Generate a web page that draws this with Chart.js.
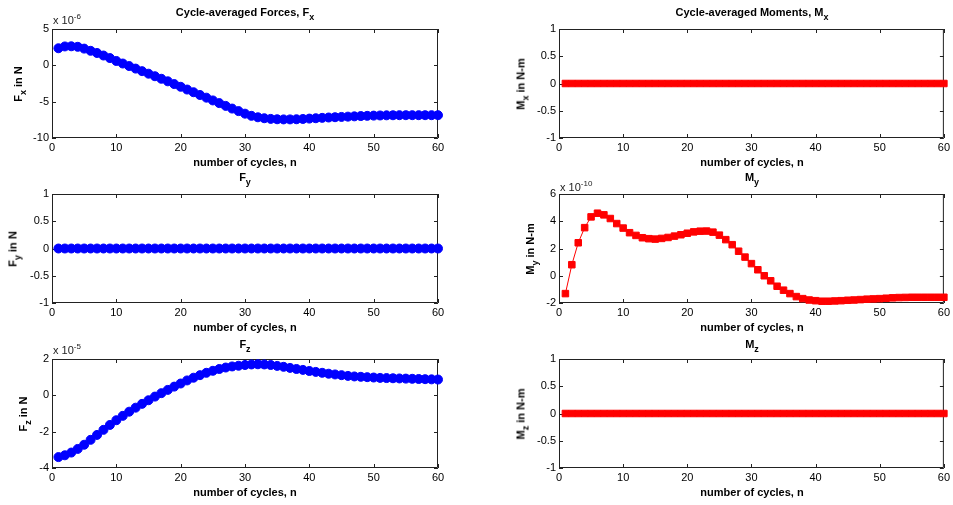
<!DOCTYPE html>
<html><head><meta charset="utf-8">
<script src="https://cdn.jsdelivr.net/npm/chart.js@4"></script>
<style>
html,body{margin:0;padding:0;background:#fff;}
#fig{position:relative;width:953px;height:505px;overflow:hidden;font-family:"Liberation Sans",Arial,Helvetica,sans-serif;color:#000;background:#fff;}
canvas{position:absolute;}
.t{position:absolute;white-space:nowrap;font-size:11px;line-height:11px;height:11px;}
.b{font-weight:bold;}
.t sub{font-size:9px;vertical-align:baseline;position:relative;top:4px;line-height:0;}
.t sup{font-size:8px;vertical-align:baseline;position:relative;top:-5px;line-height:0;}
</style></head><body><div id="fig"></div>
<script>
// ---- data ----
const cycles = [1,2,3,4,5,6,7,8,9,10,11,12,13,14,15,16,17,18,19,20,21,22,23,24,25,26,27,28,29,30,
  31,32,33,34,35,36,37,38,39,40,41,42,43,44,45,46,47,48,49,50,51,52,53,54,55,56,57,58,59,60];
// Fx in units of 1e-6 N
const fxValues = [2.35,2.6,2.62,2.55,2.3,2.0,1.7,1.35,1.0,0.6,0.25,-0.1,-0.45,-0.8,-1.15,-1.5,-1.85,-2.2,-2.58,-2.95,
  -3.33,-3.7,-4.08,-4.45,-4.83,-5.2,-5.58,-5.95,-6.3,-6.65,-6.95,-7.15,-7.28,-7.37,-7.42,-7.44,-7.44,-7.42,-7.38,-7.33,
  -7.28,-7.23,-7.18,-7.14,-7.1,-7.06,-7.02,-6.98,-6.95,-6.92,-6.9,-6.88,-6.87,-6.86,-6.86,-6.86,-6.86,-6.86,-6.86,-6.86];
const fyValues = [0,0,0,0,0,0,0,0,0,0,0,0,0,0,0,0,0,0,0,0,0,0,0,0,0,0,0,0,0,0,
  0,0,0,0,0,0,0,0,0,0,0,0,0,0,0,0,0,0,0,0,0,0,0,0,0,0,0,0,0,0];
// Fz in units of 1e-5 N
const fzValues = [-3.4,-3.3,-3.15,-2.95,-2.72,-2.45,-2.18,-1.9,-1.63,-1.37,-1.13,-0.9,-0.68,-0.47,-0.27,-0.07,0.12,0.3,0.48,0.65,
  0.82,0.97,1.11,1.24,1.35,1.45,1.53,1.59,1.63,1.67,1.7,1.71,1.7,1.67,1.62,1.57,1.51,1.45,1.4,1.34,
  1.29,1.24,1.19,1.15,1.11,1.07,1.04,1.02,1.0,0.98,0.96,0.95,0.94,0.93,0.92,0.91,0.9,0.89,0.88,0.87];
const mxValues = [0,0,0,0,0,0,0,0,0,0,0,0,0,0,0,0,0,0,0,0,0,0,0,0,0,0,0,0,0,0,
  0,0,0,0,0,0,0,0,0,0,0,0,0,0,0,0,0,0,0,0,0,0,0,0,0,0,0,0,0,0];
// My in units of 1e-10 N-m
const myValues = [-1.31,0.81,2.42,3.53,4.32,4.59,4.47,4.2,3.83,3.5,3.16,2.96,2.79,2.72,2.69,2.74,2.81,2.91,3.01,3.12,
  3.22,3.27,3.28,3.2,2.98,2.65,2.28,1.8,1.37,0.89,0.44,0.0,-0.37,-0.77,-1.06,-1.31,-1.53,-1.68,-1.78,-1.83,
  -1.87,-1.87,-1.85,-1.83,-1.8,-1.78,-1.75,-1.72,-1.7,-1.68,-1.65,-1.62,-1.6,-1.59,-1.58,-1.58,-1.58,-1.58,-1.58,-1.58];
const mzValues = [0,0,0,0,0,0,0,0,0,0,0,0,0,0,0,0,0,0,0,0,0,0,0,0,0,0,0,0,0,0,
  0,0,0,0,0,0,0,0,0,0,0,0,0,0,0,0,0,0,0,0,0,0,0,0,0,0,0,0,0,0];
const xTicks = {min:0, max:60, step:10};
const yRangeFx = {min:-10, max:5, step:5};
const yRangeFz = {min:-4, max:2, step:2};
const yRangeMy = {min:-2, max:6, step:2};
const yRangeUnit = {min:-1, max:1, step:0.5};
const xLabel = 'number of cycles, n';

// ---- layout ----
const FONT = '"Liberation Sans", Arial, Helvetica, sans-serif';
const AXIS = '#222';
const BLUE = '#0000ff', RED = '#ff0000';
const colLeft = [52, 559], colRight = [438, 945];
const rowTop = [29, 194, 359], rowBottom = [138, 303, 468];
const titleBase = [16, 181, 348];

const panels = [
  {col:0,row:0,vals:fxValues,color:BLUE,style:'circle',yr:yRangeFx,title:'Cycle-averaged Forces, F<sub>x</sub>',ylab:'F<sub>x</sub> in N',ylx:17.5,exp:'-6',expBase:24},
  {col:0,row:1,vals:fyValues,color:BLUE,style:'circle',yr:yRangeUnit,title:'F<sub>y</sub>',ylab:'F<sub>y</sub> in N',ylx:13},
  {col:0,row:2,vals:fzValues,color:BLUE,style:'circle',yr:yRangeFz,title:'F<sub>z</sub>',ylab:'F<sub>z</sub> in N',ylx:23,exp:'-5',expBase:354},
  {col:1,row:0,vals:mxValues,color:RED,style:'rect',yr:yRangeUnit,title:'Cycle-averaged Moments, M<sub>x</sub>',ylab:'M<sub>x</sub> in N-m',ylx:521},
  {col:1,row:1,vals:myValues,color:RED,style:'rect',yr:yRangeMy,title:'M<sub>y</sub>',ylab:'M<sub>y</sub> in N-m',ylx:530,exp:'-10',expBase:191},
  {col:1,row:2,vals:mzValues,color:RED,style:'rect',yr:yRangeUnit,title:'M<sub>z</sub>',ylab:'M<sub>z</sub> in N-m',ylx:521}
];

const boxTicks = {
  id:'boxTicks',
  beforeDatasetsDraw(chart){
    const {ctx, chartArea:a} = chart;
    const x = chart.scales.x, y = chart.scales.y;
    const L = 4;
    ctx.save();
    ctx.strokeStyle = AXIS; ctx.lineWidth = 1;
    ctx.beginPath();
    x.ticks.forEach(t=>{
      const px = Math.round(x.getPixelForValue(t.value)) + 0.5;
      ctx.moveTo(px, a.bottom); ctx.lineTo(px, a.bottom - L);
      ctx.moveTo(px, a.top); ctx.lineTo(px, a.top + L);
    });
    y.ticks.forEach(t=>{
      const py = Math.round(y.getPixelForValue(t.value)) + 0.5;
      ctx.moveTo(a.left, py); ctx.lineTo(a.left + L, py);
      ctx.moveTo(a.right, py); ctx.lineTo(a.right - L, py);
    });
    ctx.rect(a.left + 0.5, a.top + 0.5, a.right - a.left - 1, a.bottom - a.top - 1);
    ctx.stroke();
    ctx.restore();
  }
};

const fig = document.getElementById('fig');
function addText(html, cls, css){
  const d = document.createElement('div');
  d.className = 't ' + cls;
  d.innerHTML = html;
  Object.assign(d.style, css);
  fig.appendChild(d);
  return d;
}
const fmt = v => String(Math.round(v * 1000) / 1000);

panels.forEach(p=>{
  const cLeft = p.col === 0 ? 0 : 476;
  const cWidth = p.col === 0 ? 476 : 477;
  const cTop = rowTop[p.row] - 29;
  const cHeight = 165;
  const cv = document.createElement('canvas');
  cv.width = cWidth; cv.height = cHeight;
  cv.style.left = cLeft + 'px'; cv.style.top = cTop + 'px';
  cv.style.width = cWidth + 'px'; cv.style.height = cHeight + 'px';
  fig.appendChild(cv);

  const pts = cycles.map((c,i)=>({x:c, y:p.vals[i]}));
  const isRect = p.style === 'rect';
  new Chart(cv, {
    type:'line',
    data:{datasets:[{
      data:pts, borderColor:p.color, backgroundColor:p.color, borderWidth:1,
      pointStyle:p.style, pointRadius:isRect ? 4.6 : 4.5, pointBorderWidth:1,
      pointBackgroundColor:p.color, pointBorderColor:p.color, tension:0, clip:false, fill:false
    }]},
    options:{
      responsive:false, animation:false, events:[], devicePixelRatio:1,
      plugins:{legend:{display:false}, tooltip:{enabled:false}, title:{display:false}},
      layout:{padding:{left:colLeft[p.col] - cLeft - 52, right:cLeft + cWidth - colRight[p.col], top:29, bottom:0}},
      scales:{
        x:{type:'linear', min:xTicks.min, max:xTicks.max,
           ticks:{stepSize:xTicks.step, padding:3, color:'#000', font:{family:FONT, size:11}, maxRotation:0, autoSkip:false, callback:fmt},
           grid:{display:false, drawTicks:false}, border:{display:false},
           afterFit(s){ s.height = 27; }},
        y:{type:'linear', min:p.yr.min, max:p.yr.max,
           ticks:{stepSize:p.yr.step, padding:3, color:'#000', font:{family:FONT, size:11}, autoSkip:false, callback:fmt},
           grid:{display:false, drawTicks:false}, border:{display:false},
           afterFit(s){ s.width = 52; }}
      }
    },
    plugins:[boxTicks]
  });

  const cx = (colLeft[p.col] + colRight[p.col]) / 2;
  const cy = (rowTop[p.row] + rowBottom[p.row]) / 2;
  addText(p.title, 'b', {left:cx + 'px', top:(titleBase[p.row] - 9) + 'px', transform:'translateX(-50%)'});
  addText(xLabel, 'b', {left:cx + 'px', top:(rowBottom[p.row] + 27.5 - 9) + 'px', transform:'translateX(-50%)'});
  addText(p.ylab, 'b', {left:p.ylx + 'px', top:cy + 'px', transform:'translate(-50%,-50%) rotate(-90deg)'});
  if (p.exp) {
    addText('x 10<sup>' + p.exp + '</sup>', '', {left:(colLeft[p.col] + 1) + 'px', top:(p.expBase - 9) + 'px', color:'#222'});
  }
});
</script>
</body></html>
